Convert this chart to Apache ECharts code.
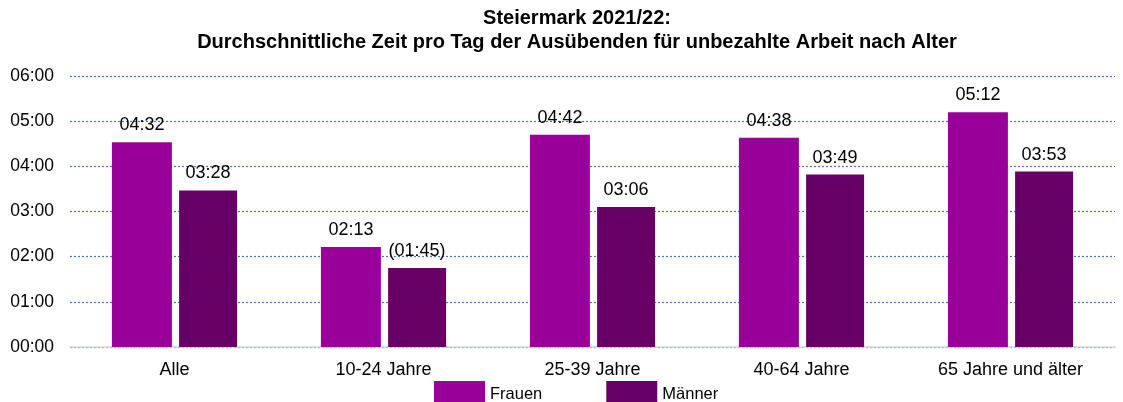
<!DOCTYPE html>
<html>
<head>
<meta charset="utf-8">
<script src="https://cdn.jsdelivr.net/npm/echarts@6/dist/echarts.min.js"></script>
<style>
  html, body { margin: 0; padding: 0; background: #fff; }
  #chart { width: 1123px; height: 402px; }
</style>
</head>
<body>
<div id="chart"></div>
<script>
"use strict";

// age groups
var categories = ["Alle", "10-24 Jahre", "25-39 Jahre", "40-64 Jahre", "65 Jahre und älter"];
// minutes per day
var frauen = [272, 133, 282, 278, 312];
var maenner = [208, 105, 186, 229, 233];
// values shown in brackets (low sample size)
var bracketed = { "Männer": [false, true, false, false, false] };

function hhmm(v) {
	var h = Math.floor(v / 60), m = Math.round(v % 60);
	return (h < 10 ? "0" : "") + h + ":" + (m < 10 ? "0" : "") + m;
}

var font = "Liberation Sans, Arial, sans-serif";

var chart = echarts.init(document.getElementById("chart"));

function labelFor(name) {
	return {
		show: true,
		position: "top",
		distance: 8,
		color: "#000",
		fontFamily: font,
		fontSize: 18,
		formatter: function (p) {
			var s = hhmm(p.value);
			var b = bracketed[name];
			return b && b[p.dataIndex] ? "(" + s + ")" : s;
		}
	};
}

chart.setOption({
	animation: false,
	title: {
		text: "Steiermark 2021/22:\nDurchschnittliche Zeit pro Tag der Ausübenden für unbezahlte Arbeit nach Alter",
		left: 572,
		textAlign: "center",
		top: 1,
		textStyle: { fontFamily: font, fontSize: 20, fontWeight: "bold", color: "#000", lineHeight: 24 }
	},
	legend: {
		top: 376,
		left: 429,
		icon: "rect",
		itemWidth: 51,
		itemHeight: 26,
		itemGap: 64,
		textStyle: { fontFamily: font, fontSize: 16.5, color: "#000" },
		data: ["Frauen", "Männer"]
	},
	grid: { left: 70, right: 8, top: 76, bottom: 55 },
	xAxis: {
		type: "category",
		data: categories,
		axisLine: { lineStyle: { color: "#d9d9d9", width: 1.5 } },
		axisTick: { show: false },
		axisLabel: { color: "#000", fontFamily: font, fontSize: 18, margin: 14 }
	},
	yAxis: {
		type: "value",
		min: 0,
		max: 360,
		interval: 60,
		axisLabel: { color: "#000", fontFamily: font, fontSize: 17.5, margin: 16, formatter: hhmm },
		splitLine: { lineStyle: { color: "#4472c4", type: [2, 2], width: 1.2 } }
	},
	series: [
		{
			name: "Frauen",
			type: "bar",
			data: frauen,
			barWidth: 60,
			barGap: "12%",
			itemStyle: { color: "#990099" },
			label: labelFor("Frauen")
		},
		{
			name: "Männer",
			type: "bar",
			data: maenner,
			barWidth: 58,
			itemStyle: { color: "#660066" },
			label: labelFor("Männer")
		}
	]
});
</script>
</body>
</html>
